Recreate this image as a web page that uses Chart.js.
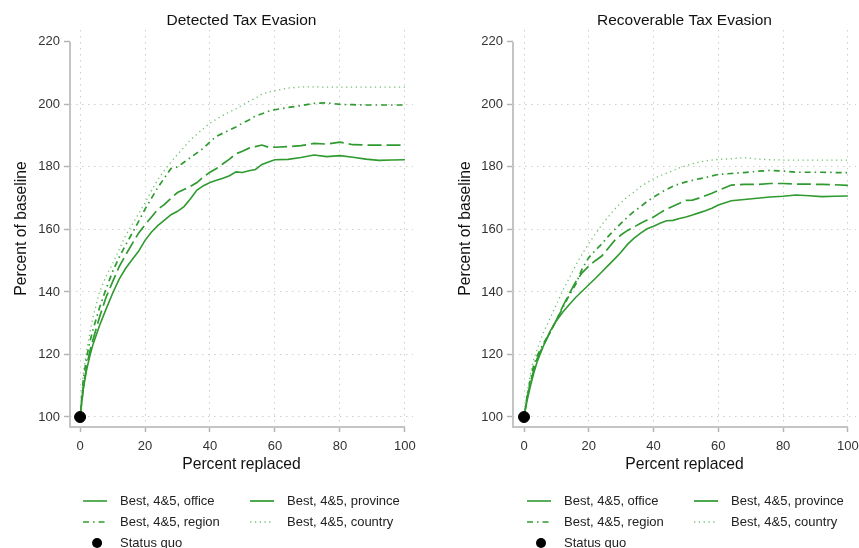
<!DOCTYPE html>
<html>
<head>
<meta charset="utf-8">
<script src="https://cdn.jsdelivr.net/npm/chart.js@4.4.1/dist/chart.umd.min.js"></script>
<style>
  html, body { margin: 0; padding: 0; background: #fff; }
  #wrap { position: relative; width: 859px; height: 548px; }
  canvas { position: absolute; top: 0; }
</style>
</head>
<body>
<div id="wrap">
  <canvas id="detected" width="430" height="548" style="left:0"></canvas>
  <canvas id="recoverable" width="429" height="548" style="left:430px"></canvas>
</div>
<script>
// percent of staff replaced (x)
const pctReplaced = [0, 1, 2, 3, 4, 6, 8, 10, 12, 14, 16, 18, 20, 22, 24, 26, 28, 30, 32, 34, 36, 38, 40,
  42, 44, 46, 48, 50, 52, 54, 56, 58, 60, 64, 68, 72, 76, 80, 84, 88, 92, 96, 100];

// Detected tax evasion, percent of baseline
const detOffice = [100, 109, 115, 119.5, 123.3, 129.3, 134.5, 139.5, 144, 147.5, 150.3, 153, 156.5, 159.2, 161.3,
  163, 164.7, 165.8, 167.3, 169.8, 172.6, 174, 175, 175.7, 176.4, 177.2, 178.4, 178.2, 178.8, 179.2, 180.8,
  181.6, 182.3, 182.4, 183, 183.8, 183.3, 183.6, 183.1, 182.5, 182.1, 182.2, 182.3];
const detProvince = [100, 109.5, 116, 121, 124.8, 132, 138.3, 143.2, 148, 151.8, 155.3, 158.8, 161.5, 164, 166.5,
  168, 170, 171.8, 172.8, 173.8, 175, 176.8, 178.3, 179.5, 181, 182.5, 184.2, 185, 186, 186.5, 187,
  186.3, 186.3, 186.5, 186.8, 187.5, 187.3, 187.9, 187.1, 187, 187, 187, 187];
const detRegion = [100, 112, 119, 124, 128, 135, 141, 146.5, 151, 155, 158.7, 162.5, 166.5, 170, 173.5,
  176.5, 179.5, 180, 181.5, 183, 184.5, 186, 188, 189.8, 190.8, 191.8, 192.8, 194, 195, 196.3, 197,
  197.8, 198.3, 199, 199.6, 200.3, 200.5, 200, 199.9, 199.8, 199.8, 199.8, 199.8];
const detCountry = [100, 114, 121, 127, 132, 140, 145, 149, 153.5, 158, 161.5, 165, 168.5, 172.5, 176,
  179, 181.5, 184, 186.3, 188.7, 190.5, 192.3, 194, 195.3, 196.5, 197.6, 198.6, 199.8, 201, 202, 203.3,
  203.9, 204.4, 205.2, 205.6, 205.6, 205.5, 205.5, 205.5, 205.5, 205.5, 205.5, 205.5];

// Recoverable tax evasion, percent of baseline
const recOffice = [100, 105.5, 110, 114, 117.5, 122.7, 127.3, 130.8, 133.6, 136, 138.3, 140.3, 142.3, 144.3, 146.4,
  148.5, 150.6, 152.8, 155.3, 157.2, 158.8, 160.2, 161, 162, 162.8, 162.9, 163.5, 164, 164.6, 165.3, 166,
  166.8, 167.8, 169.2, 169.6, 170, 170.4, 170.6, 171, 170.8, 170.5, 170.6, 170.7];
const recProvince = [100, 106.5, 111, 115, 118.5, 123, 127, 131, 135.5, 139.5, 143.3, 146.2, 148.3, 150, 151.5,
  154, 156.5, 158.3, 159.7, 160.8, 162, 163, 164, 165.3, 166.5, 167.4, 168.4, 169.3, 169.4, 170, 170.8,
  171.6, 172.5, 174.2, 174.4, 174.4, 174.7, 174.7, 174.5, 174.5, 174.4, 174.3, 174.1];
const recRegion = [100, 107, 112, 116.5, 119.5, 123.5, 127, 131, 135, 139, 142.5, 147.5, 151, 153.3, 155.3,
  157.8, 160, 162, 164, 165.8, 167.3, 169, 170.3, 171.6, 172.8, 173.8, 174.6, 175.2, 175.7, 176.2, 176.6,
  177.1, 177.6, 177.9, 178.2, 178.6, 178.9, 178.7, 178.3, 178.3, 178.3, 178.2, 178.2];
const recCountry = [100, 108, 114, 118.5, 121.5, 127, 131.5, 136, 140.5, 144.5, 148.6, 152.2, 155.5, 158.5, 161.5,
  164, 166.5, 168.6, 170.5, 172, 173.7, 175, 176.2, 177.2, 178, 178.8, 179.7, 180.4, 181, 181.5, 181.9,
  182.2, 182.4, 182.6, 183, 182.5, 182.3, 182.2, 182.2, 182.2, 182.2, 182.2, 182.2];

const statusQuo = [{ x: 0, y: 100 }];

const xTicks = [0, 20, 40, 60, 80, 100];
const yTicks = [100, 120, 140, 160, 180, 200, 220];

const FONT = '"Liberation Sans", Arial, Helvetica, sans-serif';
const green = '#2f9a2f';
const lightGreen = '#74c074';
const gridColor = '#cfcfcf';
const axisColor = '#c4c4c4';

const toPoints = arr => pctReplaced.map((x, i) => ({ x: x, y: arr[i] }));

function makeDatasets(office, province, region, country) {
  return [
    { label: 'Status quo', type: 'scatter', data: statusQuo, pointRadius: 5.5, pointBackgroundColor: '#000',
      pointBorderColor: '#000', showLine: false, legendPoint: true },
    { label: 'Best, 4&5, office', data: toPoints(office), borderColor: green, borderWidth: 1.6, borderDash: [] },
    { label: 'Best, 4&5, province', data: toPoints(province), borderColor: green, borderWidth: 1.7,
      borderDash: [14, 5], legendDash: [] },
    { label: 'Best, 4&5, region', data: toPoints(region), borderColor: green, borderWidth: 1.7, borderDash: [6, 4, 1.5, 4] },
    { label: 'Best, 4&5, country', data: toPoints(country), borderColor: lightGreen, borderWidth: 1.3, borderDash: [1.3, 3.5] }
  ];
}

// axis lines only over the data range, like the original
const axisLines = {
  id: 'axisLines',
  beforeDatasetsDraw(chart) {
    const { ctx, chartArea, scales } = chart;
    ctx.save();
    ctx.strokeStyle = axisColor;
    ctx.lineWidth = 2;
    ctx.beginPath();
    ctx.moveTo(chartArea.left, scales.y.getPixelForValue(220));
    ctx.lineTo(chartArea.left, chartArea.bottom);
    ctx.lineTo(scales.x.getPixelForValue(100), chartArea.bottom);
    ctx.stroke();
    ctx.restore();
  }
};

// two-column legend under the plot
const stataLegend = {
  id: 'stataLegend',
  afterDraw(chart) {
    const ctx = chart.ctx;
    const x0 = chart.scales.x.getPixelForValue(0);
    const ds = chart.data.datasets;
    const order = [1, 2, 3, 4, 0];
    const rows = [501, 522, 543];
    const cols = [x0 + 3, x0 + 170];
    ctx.save();
    ctx.font = '13px ' + FONT;
    ctx.textBaseline = 'middle';
    order.forEach((di, k) => {
      const d = ds[di];
      const cx = cols[k % 2];
      const cy = rows[Math.floor(k / 2)];
      if (d.legendPoint) {
        ctx.fillStyle = '#000';
        ctx.beginPath();
        ctx.arc(cx + 14, cy, 5, 0, Math.PI * 2);
        ctx.fill();
      } else {
        ctx.strokeStyle = d.borderColor;
        ctx.lineWidth = d.borderWidth;
        ctx.setLineDash(d.legendDash || d.borderDash);
        ctx.beginPath();
        ctx.moveTo(cx, cy);
        ctx.lineTo(cx + 24, cy);
        ctx.stroke();
        ctx.setLineDash([]);
      }
      ctx.fillStyle = '#222';
      ctx.fillText(d.label, cx + 37, cy);
    });
    ctx.restore();
  }
};

function makeConfig(title, datasets, xMin, yAxisWidth, yTitlePad, padRight) {
  return {
    type: 'line',
    data: { datasets: datasets },
    options: {
      responsive: false,
      animation: false,
      layout: { autoPadding: false, padding: { left: 0, right: padRight, top: 0, bottom: 0 } },
      elements: { point: { radius: 0 }, line: { tension: 0 } },
      plugins: {
        legend: { display: false },
        tooltip: { enabled: false },
        title: {
          display: true, text: title, fullSize: false, color: '#111',
          font: { family: FONT, size: 15.5, weight: 'normal', lineHeight: 1 },
          padding: { top: 12.5, bottom: 2 }
        }
      },
      scales: {
        x: {
          type: 'linear', min: xMin, max: 102.5,
          afterBuildTicks: s => { s.ticks = xTicks.map(v => ({ value: v })); },
          afterFit: s => { s.height = 121; s.paddingLeft = 0; s.paddingRight = 0; },
          border: { display: false, dash: [1.5, 4.5] },
          grid: { color: gridColor, lineWidth: 1, drawTicks: true, tickLength: 5, tickColor: '#b4b4b4', tickWidth: 1.5 },
          ticks: { color: '#333', font: { family: FONT, size: 13 }, padding: 7, maxRotation: 0, autoSkip: false },
          title: { display: true, text: 'Percent replaced', color: '#111',
            font: { family: FONT, size: 15.7 }, padding: { top: 0, bottom: 74 } }
        },
        y: {
          type: 'linear', min: 96.8, max: 223.8,
          afterBuildTicks: s => { s.ticks = yTicks.map(v => ({ value: v })); },
          afterFit: s => { s.width = yAxisWidth; s.paddingTop = 0; s.paddingBottom = 0; },
          border: { display: false, dash: [1.5, 4.5] },
          grid: {
            color: c => (c.tick && c.tick.value === 220) ? 'rgba(0,0,0,0)' : gridColor,
            lineWidth: 1, drawTicks: true, tickLength: 6, tickColor: '#b4b4b4', tickWidth: 1.5
          },
          ticks: { color: '#333', font: { family: FONT, size: 13 }, padding: 4 },
          title: { display: true, text: 'Percent of baseline', color: '#111',
            font: { family: FONT, size: 15.7 }, padding: { top: yTitlePad, bottom: 0 } }
        }
      }
    },
    plugins: [axisLines, stataLegend]
  };
}

new Chart(document.getElementById('detected'),
  makeConfig('Detected Tax Evasion', makeDatasets(detOffice, detProvince, detRegion, detCountry), -3.1, 70, 12.3, 17));
new Chart(document.getElementById('recoverable'),
  makeConfig('Recoverable Tax Evasion', makeDatasets(recOffice, recProvince, recRegion, recCountry), -3.4, 83, 26.3, 3));
</script>
</body>
</html>
